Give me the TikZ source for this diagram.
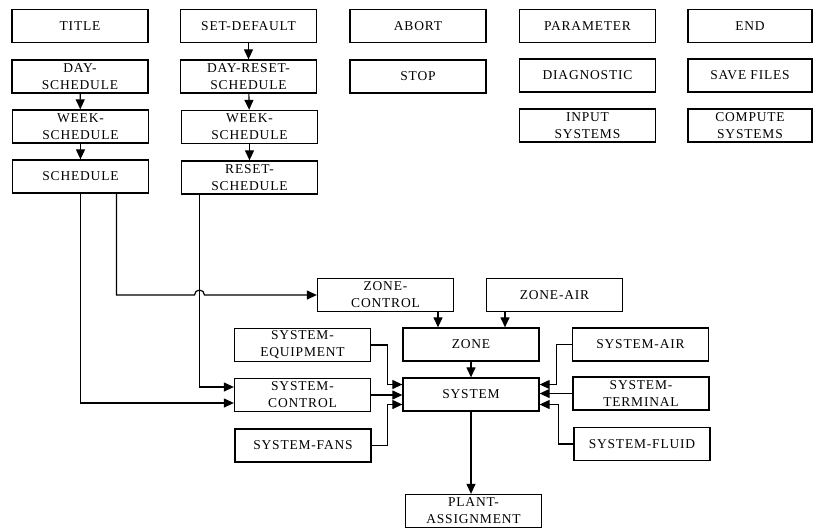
\documentclass[tikz,border=0pt]{standalone}
\usepackage{fontspec}
\setmainfont[LetterSpace=6]{Liberation Serif}
\usetikzlibrary{arrows.meta,calc}

\begin{document}
\begin{tikzpicture}[x=1pt, y=-1pt,
    box/.style={draw, line width=1.3pt, fill=white, font=\fontsize{13.5}{17}\selectfont, align=center, minimum width=136pt, minimum height=33pt, inner sep=1pt},
    sbox/.style={box, minimum width=124pt},
    flow/.style={-{Triangle[length=10pt,width=9pt]}, line width=1.2pt}
]
\useasboundingbox (0,0) rectangle (816,528);

% ---- top rows ----
\node[box] (title) at (80,26) {TITLE};
\node[box] (setdef) at (248.5,26) {SET-DEFAULT};
\node[box] (abort) at (418,26) {ABORT};
\node[box] (param) at (587.5,26) {PARAMETER};
\node[sbox] (endb) at (750,26) {END};

\node[box] (dayS) at (80,76.5) {DAY-\\ SCHEDULE};
\node[box] (dayR) at (248.5,76.5) {DAY-RESET-\\ SCHEDULE};
\node[box] (stop) at (418,76.5) {STOP};
\node[box] (diag) at (587.5,75.5) {DIAGNOSTIC};
\node[sbox] (save) at (750,75.5) {SAVE FILES};

\node[box] (weekS) at (80.5,126.5) {WEEK-\\ SCHEDULE};
\node[box] (weekR) at (249.5,127) {WEEK-\\ SCHEDULE};
\node[box] (input) at (587.5,125.5) {INPUT\\ SYSTEMS};
\node[sbox] (compute) at (750,125.5) {COMPUTE\\ SYSTEMS};

\node[box] (sched) at (80.5,176.5) {SCHEDULE};
\node[box] (reset) at (249.5,177.5) {RESET-\\ SCHEDULE};

% ---- zone ----
\node[box] (zctl) at (385.5,295) {ZONE-\\ CONTROL};
\node[box] (zair) at (554.5,295) {ZONE-AIR};
\node[box] (zone) at (471,344.5) {ZONE};

% ---- system ----
\node[box] (system) at (471,394.5) {SYSTEM};
\node[box] (sequip) at (302.5,345) {SYSTEM-\\ EQUIPMENT};
\node[box] (sctl) at (302.5,395) {SYSTEM-\\ CONTROL};
\node[box] (sfans) at (303,445.5) {SYSTEM-FANS};
\node[box] (sair) at (640.5,344.5) {SYSTEM-AIR};
\node[box] (sterm) at (641,393.5) {SYSTEM-\\ TERMINAL};
\node[box] (sfluid) at (642,444) {SYSTEM-FLUID};
\node[box] (plant) at (473.5,511) {PLANT-\\ ASSIGNMENT};

% Relations
\draw[flow] (setdef) -- (dayR);
\draw[flow] (dayR) -- (weekR);
\draw[flow] (weekR) -- (reset);
\draw[flow] (dayS) -- (weekS);
\draw[flow] (weekS) -- (sched);

\draw[flow] ([xshift=36pt]sched.south) -- ([xshift=36pt]sched.south |- zctl.west)
    -- ([xshift=-55pt]reset.south |- zctl.west) arc[start angle=180, end angle=0, radius=5pt] -- (zctl.west);
\draw[flow] (sched.south) |- ([yshift=-8pt]sctl.west);
\draw[flow] ([xshift=-50pt]reset.south) |- ([yshift=8pt]sctl.west);

\draw[flow] ([xshift=52.5pt]zctl.south) -- ([xshift=52.5pt]zctl.south |- zone.north);
\draw[flow] ([xshift=-49.5pt]zair.south) -- ([xshift=-49.5pt]zair.south |- zone.north);
\draw[flow] (zone) -- (system);
\draw[flow] (system) -- (system |- plant.north);

\draw[flow] (sequip.east) -- ++(16,0) |- ([yshift=10pt]system.west);
\draw[flow] (sctl.east) -- (sctl.east -| system.west);
\draw[flow] (sfans.east) -- ++(16,0) |- ([yshift=-10pt]system.west);
\draw[flow] (sair.west) -- ++(-15,0) |- ([yshift=10pt]system.east);
\draw[flow] (sterm.west) -- (sterm.west -| system.east);
\draw[flow] (sfluid.west) -- ++(-15,0) |- ([yshift=-10pt]system.east);
\end{tikzpicture}
\end{document}
